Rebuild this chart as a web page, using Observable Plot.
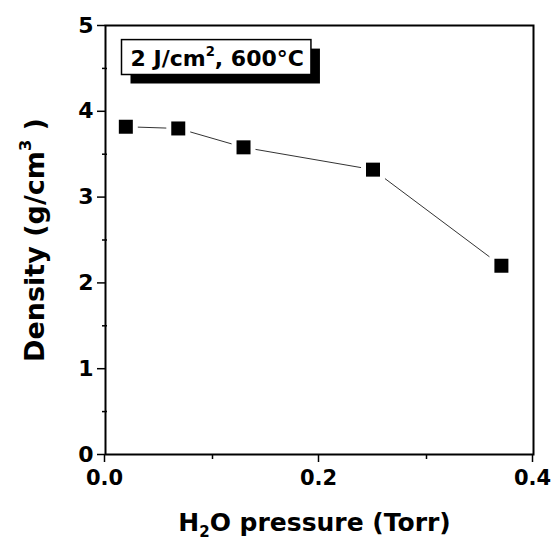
<!DOCTYPE html>
<html><head><meta charset="utf-8">
<script src="https://cdn.jsdelivr.net/npm/d3@7"></script>
<script src="https://cdn.jsdelivr.net/npm/@observablehq/plot@0.6"></script>
<style>body{margin:0;background:#fff}</style>
</head><body><div id="chart"></div>
<script>
const pressure = [0.019, 0.068, 0.129, 0.250, 0.370];
const density = [3.82, 3.80, 3.58, 3.32, 2.20];
const xTicks = [0, 0.2, 0.4];
const xMinor = [0.1, 0.3];
const yTicks = [0, 1, 2, 3, 4, 5];
const yMinor = [0.5, 1.5, 2.5, 3.5, 4.5];
// label parts: [normal, script, normal]
const xLabelParts = ["H", "2", "O pressure (Torr)"];
const yLabelParts = ["Density (g/cm", "3", " )"];
const noteParts = ["2 J/cm", "2", ", 600°C"];

const xLabel = xLabelParts.join("");
const yLabel = yLabelParts.join("");
const note = noteParts.join("");

const data = pressure.map((p, i) => ({p, d: density[i]}));

const chart = Plot.plot({
  width: 551,
  height: 541,
  marginLeft: 105,
  marginRight: 18,
  marginTop: 25,
  marginBottom: 87,
  style: {fontFamily: "DejaVu Sans", fontWeight: "bold", color: "black", background: "white"},
  x: {domain: [0, 0.4]},
  y: {domain: [0, 5]},
  marks: [
    Plot.axisX({ticks: xTicks, tickSize: 8, tickPadding: 8, tickFormat: d3.format(".1f"), fontSize: 21, strokeWidth: 1.5, label: null, dx: -1}),
    Plot.axisX({ticks: xMinor, tickSize: 5, tickFormat: () => "", strokeWidth: 1.5, label: null}),
    Plot.axisY({ticks: yTicks, tickSize: 8, tickPadding: 4, tickFormat: d3.format("d"), fontSize: 22, strokeWidth: 1.5, label: null}),
    Plot.axisY({ticks: yMinor, tickSize: 3, tickFormat: () => "", strokeWidth: 1.5, label: null}),
    Plot.axisY({ticks: yMinor, tickSize: -2, tickFormat: () => "", strokeWidth: 1.5, label: null}),
    Plot.line(data, {x: "p", y: "d", stroke: "#333", strokeWidth: 1}),
    Plot.dot(data, {x: "p", y: "d", symbol: "square", r: 13.5, fill: "white", stroke: "none"}),
    Plot.dot(data, {x: "p", y: "d", symbol: "square", r: 7.9, fill: "black", stroke: "none"}),
    Plot.frame({stroke: "black", strokeWidth: 2}),
    Plot.text([xLabel], {frameAnchor: "bottom", textAnchor: "middle", lineAnchor: "bottom", dx: -5, dy: 76, fontSize: 25, fill: "black"}),
    Plot.text([yLabel], {frameAnchor: "left", textAnchor: "middle", lineAnchor: "bottom", rotate: -90, dx: -62, fontSize: 27, fill: "black"}),
    Plot.text([note], {frameAnchor: "top-left", textAnchor: "start", lineAnchor: "bottom", dx: 25, dy: 40, fontSize: 22, fill: "black"})
  ]
});
document.getElementById("chart").appendChild(chart);

const svg = d3.select(chart);
function findText(str) {
  return svg.selectAll("text").filter(function() { return this.textContent === str; }).node();
}
function richify(node, parts, kind, scale, shift) {
  if (!node) return;
  const fs = parseFloat(getComputedStyle(node).fontSize);
  const small = fs * scale;
  const off = kind === "sup" ? -fs * shift : fs * shift;
  const s = d3.select(node);
  s.text(null);
  s.append("tspan").text(parts[0]);
  s.append("tspan").attr("font-size", small).attr("dy", off).text(parts[1]);
  s.append("tspan").attr("dy", -off).text(parts[2]);
}

// box with drop shadow behind the annotation
const noteNode = findText(note);
if (noteNode) {
  richify(noteNode, noteParts, "sup", 0.6, 0.45);
  const bb = noteNode.getBBox();
  const g = noteNode.parentNode;
  const parent = d3.select(g.parentNode);
  const boxG = parent.insert("g", () => g).attr("transform", g.getAttribute("transform"));
  const inner = boxG.append("g").attr("transform", noteNode.getAttribute("transform"));
  const x0 = bb.x - 9, w = bb.width + 16, y0 = bb.y - 4, h = bb.height + 8;
  inner.append("rect").attr("x", x0 + 9).attr("y", y0 + 9).attr("width", w).attr("height", h).attr("fill", "black");
  inner.append("rect").attr("x", x0).attr("y", y0).attr("width", w).attr("height", h).attr("fill", "white").attr("stroke", "black").attr("stroke-width", 1.5);
}
richify(findText(xLabel), xLabelParts, "sub", 0.6, 0.25);
richify(findText(yLabel), yLabelParts, "sup", 0.6, 0.45);
</script>
</body></html>
